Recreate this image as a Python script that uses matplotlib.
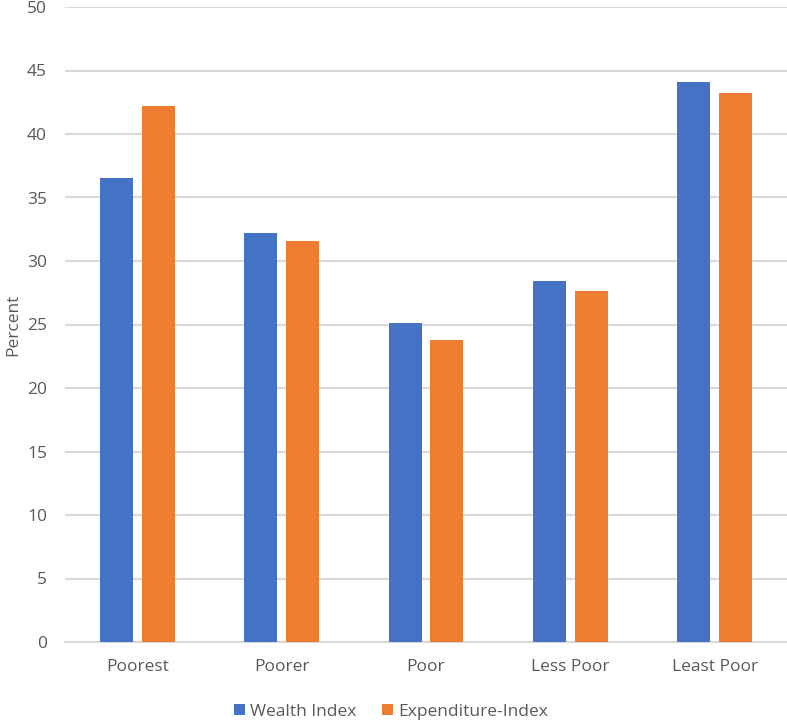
import matplotlib
matplotlib.use("Agg")
import matplotlib.pyplot as plt
import numpy as np

categories = ["Poorest", "Poorer", "Poor", "Less Poor", "Least Poor"]
wealth = [36.5, 32.2, 25.1, 28.45, 44.1]
expenditure = [42.2, 31.6, 23.8, 27.6, 43.2]
series_names = ["Wealth Index", "Expenditure-Index"]
yticks = [0, 5, 10, 15, 20, 25, 30, 35, 40, 45, 50]

plt.rcParams['font.family'] = ['Open Sans', 'DejaVu Sans']
fig = plt.figure(figsize=(7.87, 7.22), dpi=100)
ax = fig.add_axes([65/787, (722-642)/722, (787-65)/787, (642-7)/722])

x = np.arange(len(categories))
w = 0.228
off = 0.145
blue = "#4472C4"
orange = "#ED7D31"
ax.bar(x - off, wealth, w, color=blue, label=series_names[0], zorder=3)
ax.bar(x + off, expenditure, w, color=orange, label=series_names[1], zorder=3)

ax.set_xlim(-0.5, len(categories) - 0.5)
ax.set_ylim(0, 50)
ax.set_yticks(yticks)
ax.set_xticks(x)
ax.set_xticklabels(categories)
ax.yaxis.grid(True, color="#d9d9d9", linewidth=1.5, zorder=0)
for s in ["top", "right", "left"]:
    ax.spines[s].set_visible(False)
ax.spines["bottom"].set_color("#d9d9d9")
ax.spines["bottom"].set_linewidth(1.5)
ax.tick_params(axis="both", length=0, labelsize=12.5, labelcolor="#595959")
ax.tick_params(axis="x", pad=12)
ax.tick_params(axis="y", pad=13)
ax.set_ylabel("Percent", fontsize=12.5, color="#595959", labelpad=4)

leg = fig.legend(loc="center", bbox_to_anchor=(391/787, 1 - 712/722), ncol=2, frameon=False,
                 fontsize=12.5, handlelength=0.6, handleheight=0.6, handletextpad=0.3,
                 columnspacing=1.5)
for t in leg.get_texts():
    t.set_color("#595959")

fig.savefig("out.png", dpi=100)
